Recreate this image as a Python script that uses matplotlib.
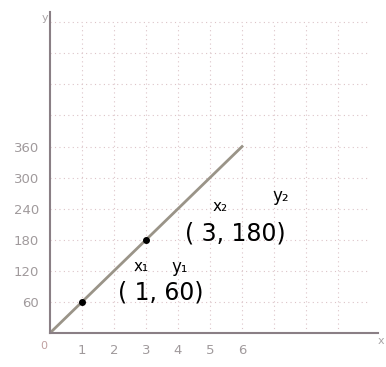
import matplotlib.pyplot as plt
import numpy as np

# line y = 60x drawn from the origin
line_x = [0, 6]
line_y = [0, 360]

# marked points
pts_x = [1, 3]
pts_y = [60, 180]

x_ticks = [1, 2, 3, 4, 5, 6]
y_ticks = [60, 120, 180, 240, 300, 360]

fig = plt.figure(figsize=(3.86, 3.67), dpi=100)
ax = fig.add_axes([0.1295, 0.0926, 0.85, 0.875])

ax.set_xlim(0, 10.25)
ax.set_ylim(0, 620)

# faint grid, one square per unit
for gx in range(1, 10):
    ax.axvline(gx, ymax=600 / 620, color='#dcc4c8', lw=0.8, ls=(0, (1, 3)), zorder=0)
for gy in range(60, 601, 60):
    ax.axhline(gy, xmax=9.9 / 10.25, color='#dcc4c8', lw=0.8, ls=(0, (1, 3)), zorder=0)

ax.plot(line_x, line_y, color='#9a9488', lw=2, zorder=2)
ax.plot(pts_x, pts_y, 'o', color='black', ms=4, zorder=3)

for s in ['top', 'right']:
    ax.spines[s].set_visible(False)
for s in ['left', 'bottom']:
    ax.spines[s].set_color('#8a7f85')
    ax.spines[s].set_linewidth(1.5)

ax.set_xticks(x_ticks)
ax.set_yticks(y_ticks)
ax.tick_params(length=0, colors='#a09a9c', labelsize=9.5, pad=8)
ax.text(-0.1, -15, '0', color='#c0a0a0', fontsize=8, ha='right', va='top')
ax.text(-0.05, 618, 'y', color='#a9a4a6', fontsize=8, ha='right', va='top')
ax.text(10.25, -5, 'x', color='#a9a4a6', fontsize=8, ha='left', va='top', clip_on=False)

# handwritten notes
hw = dict(color='black', family='DejaVu Sans', clip_on=False)
ax.text(3.45, 78, '( 1, 60)', fontsize=17, ha='center', va='center', **hw)
ax.text(2.85, 128, 'x\u2081', fontsize=11, ha='center', va='center', **hw)
ax.text(4.05, 128, 'y\u2081', fontsize=12, ha='center', va='center', **hw)
ax.text(5.8, 193, '( 3, 180)', fontsize=17, ha='center', va='center', **hw)
ax.text(5.3, 245, 'x\u2082', fontsize=11, ha='center', va='center', **hw)
ax.text(7.2, 265, 'y\u2082', fontsize=12, ha='center', va='center', **hw)

fig.savefig('out.png', dpi=100)
